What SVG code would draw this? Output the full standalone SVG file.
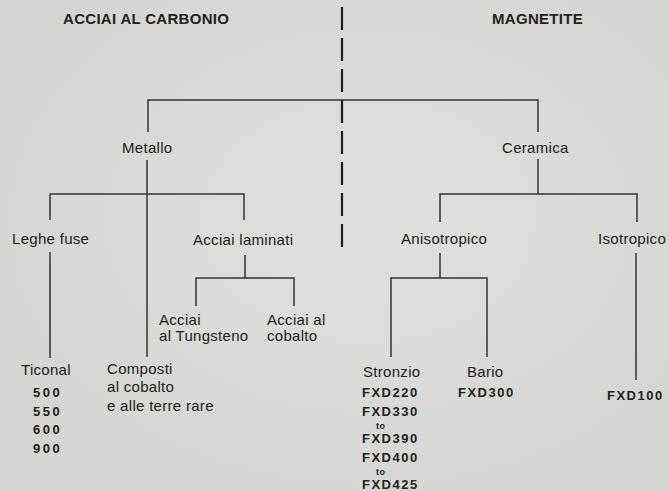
<svg xmlns="http://www.w3.org/2000/svg" width="669" height="491" viewBox="0 0 669 491">
<defs>
<radialGradient id="bg" cx="0.55" cy="0.45" r="0.6">
<stop offset="0" stop-color="#e0e0dc"/>
<stop offset="1" stop-color="#d5d5d1"/>
</radialGradient>
<style>
text{font-family:"Liberation Sans",Arial,sans-serif;fill:#222;}
.t{font-size:15px;letter-spacing:0.3px;}
.h{font-size:15px;font-weight:bold;letter-spacing:0.3px;}
.c{font-size:13px;font-weight:bold;letter-spacing:1.5px;}
.n{font-size:13px;font-weight:bold;letter-spacing:2.5px;}
.s{font-size:9px;font-weight:bold;letter-spacing:0.6px;}
.ln{stroke:#333;stroke-width:1.5;fill:none;}
.dash{stroke:#1e1e1e;stroke-width:2.2;fill:none;stroke-dasharray:23 8;}
</style>
</defs>
<rect width="669" height="491" fill="url(#bg)"/>

<g id="connectors">
<line class="dash" x1="342" y1="7" x2="342" y2="254"/>
<path class="ln" d="M148 132 V100 H538 V132"/>
<path class="ln" d="M147 160 V357"/>
<path class="ln" d="M50 220 V194 H244 V220"/>
<path class="ln" d="M50 252 V358"/>
<path class="ln" d="M245 255 V278"/>
<path class="ln" d="M196 306 V278 H294 V306"/>
<path class="ln" d="M538 159 V194"/>
<path class="ln" d="M440 222 V194 H637 V222"/>
<path class="ln" d="M440 253 V278"/>
<path class="ln" d="M391 357 V278 H487 V357"/>
<path class="ln" d="M636 253 V380"/>
</g>

<g id="title-acciai"><text class="h" x="63" y="24">ACCIAI AL CARBONIO</text></g>
<g id="title-magnetite"><text class="h" x="492" y="24">MAGNETITE</text></g>

<g id="metallo"><text class="t" x="122" y="153">Metallo</text></g>
<g id="ceramica"><text class="t" x="502" y="153">Ceramica</text></g>

<g id="leghe-fuse"><text class="t" x="12" y="244">Leghe fuse</text></g>
<g id="acciai-laminati"><text class="t" x="193" y="245">Acciai laminati</text></g>
<g id="anisotropico"><text class="t" x="401" y="244">Anisotropico</text></g>
<g id="isotropico"><text class="t" x="598" y="244">Isotropico</text></g>

<g id="acciai-tungsteno">
<text class="t" x="159" y="325">Acciai</text>
<text class="t" x="159" y="341">al Tungsteno</text>
</g>
<g id="acciai-cobalto">
<text class="t" x="267" y="325">Acciai al</text>
<text class="t" x="267" y="341">cobalto</text>
</g>

<g id="ticonal">
<text class="t" x="21" y="375">Ticonal</text>
<text class="n" x="33" y="397">500</text>
<text class="n" x="33" y="416">550</text>
<text class="n" x="33" y="434">600</text>
<text class="n" x="33" y="453">900</text>
</g>

<g id="composti">
<text class="t" x="107" y="374">Composti</text>
<text class="t" x="107" y="392">al cobalto</text>
<text class="t" x="107" y="411">e alle terre rare</text>
</g>

<g id="stronzio">
<text class="t" x="363" y="377">Stronzio</text>
<text class="c" x="362" y="397">FXD220</text>
<text class="c" x="362" y="416">FXD330</text>
<text class="s" x="376" y="429">to</text>
<text class="c" x="362" y="443">FXD390</text>
<text class="c" x="362" y="462">FXD400</text>
<text class="s" x="376" y="475">to</text>
<text class="c" x="362" y="489">FXD425</text>
</g>

<g id="bario">
<text class="t" x="467" y="377">Bario</text>
<text class="c" x="458" y="397">FXD300</text>
</g>

<g id="fxd100"><text class="c" x="607" y="400">FXD100</text></g>
</svg>
